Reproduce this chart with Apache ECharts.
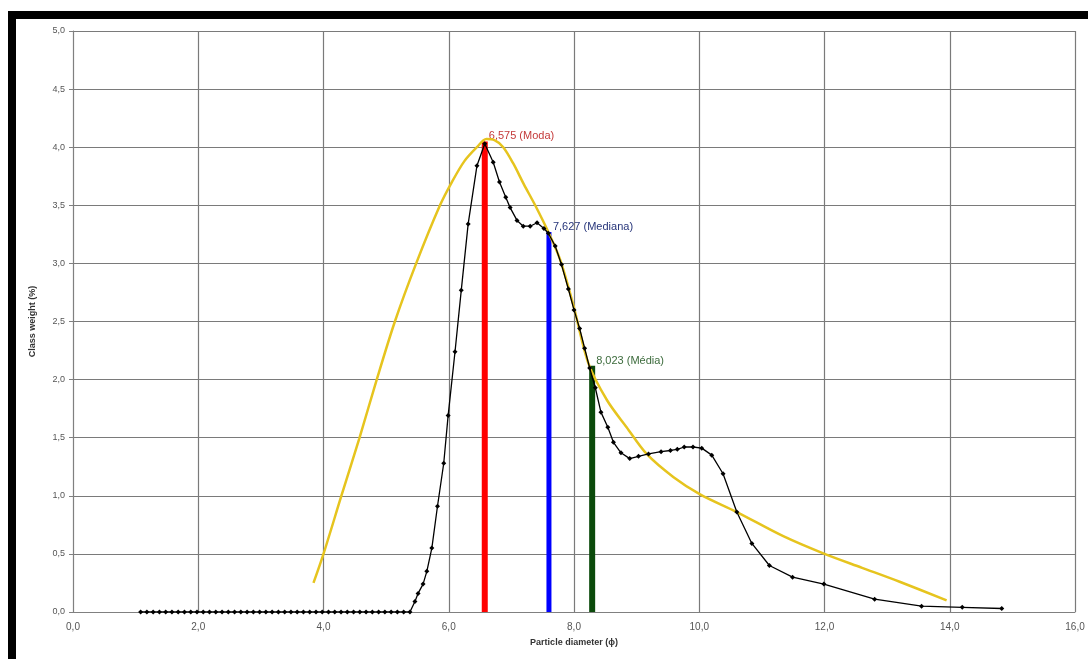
<!DOCTYPE html>
<html>
<head>
<meta charset="utf-8">
<script src="https://cdn.jsdelivr.net/npm/echarts@6/dist/echarts.min.js"></script>
<style>
  html, body { margin: 0; padding: 0; background: #fff; }
  #chart { width: 1088px; height: 659px; }
</style>
</head>
<body>
<div id="chart"></div>
<script>
// measured curve (black)
const measuredX = [
  1.08, 1.18, 1.28, 1.38, 1.48, 1.58, 1.68, 1.78, 1.88, 1.98,
  2.08, 2.18, 2.28, 2.38, 2.48, 2.58, 2.68, 2.78, 2.88, 2.98,
  3.08, 3.18, 3.28, 3.38, 3.48, 3.58, 3.68, 3.78, 3.88, 3.98,
  4.08, 4.18, 4.28, 4.38, 4.48, 4.58, 4.68, 4.78, 4.88, 4.98,
  5.08, 5.18, 5.28, 5.38,
  5.46, 5.51, 5.59, 5.65, 5.73, 5.82, 5.92, 5.99, 6.1, 6.2,
  6.31, 6.45, 6.575, 6.71, 6.81, 6.91, 6.98, 7.09, 7.19, 7.3,
  7.41, 7.52, 7.59, 7.7, 7.8, 7.91, 8.0, 8.09, 8.17, 8.25,
  8.34, 8.43, 8.54, 8.63, 8.75, 8.89, 9.03, 9.19, 9.39, 9.54,
  9.65, 9.76, 9.9, 10.04, 10.2, 10.38, 10.6, 10.84, 11.12, 11.49,
  11.99, 12.8, 13.55, 14.2, 14.83
];
const measuredY = [
  0, 0, 0, 0, 0, 0, 0, 0, 0, 0,
  0, 0, 0, 0, 0, 0, 0, 0, 0, 0,
  0, 0, 0, 0, 0, 0, 0, 0, 0, 0,
  0, 0, 0, 0, 0, 0, 0, 0, 0, 0,
  0, 0, 0, 0,
  0.09, 0.16, 0.24, 0.35, 0.55, 0.91, 1.28, 1.69, 2.24, 2.77,
  3.34, 3.84, 4.03, 3.87, 3.7, 3.57, 3.48, 3.37, 3.32, 3.32,
  3.35, 3.3, 3.26, 3.15, 2.99, 2.78, 2.6, 2.44, 2.27, 2.1,
  1.93, 1.72, 1.59, 1.46, 1.37, 1.32, 1.34, 1.36, 1.38, 1.39,
  1.4, 1.42, 1.42, 1.41, 1.35, 1.19, 0.86, 0.59, 0.4, 0.3,
  0.24, 0.11, 0.05, 0.04, 0.03
];

// fitted curve (yellow)
const fitX = [3.84, 4.0, 4.28, 4.57, 4.85, 5.14, 5.48, 5.86, 6.05, 6.25,
  6.45, 6.6, 6.73, 6.87, 7.03, 7.2, 7.38, 7.59, 7.78, 7.99,
  8.23, 8.53, 8.84, 9.16, 9.59, 10.02, 10.6, 11.35, 12.0, 12.6,
  13.2, 13.95];
const fitY = [0.25, 0.5, 0.99, 1.49, 2.0, 2.5, 3.0, 3.5, 3.7, 3.88,
  4.0, 4.07, 4.06, 4.0, 3.86, 3.68, 3.5, 3.27, 3.03, 2.64,
  2.14, 1.82, 1.59, 1.36, 1.16, 1.01, 0.86, 0.65, 0.5, 0.38,
  0.26, 0.1];

// statistics (mode, median, mean)
const statX = [6.575, 7.6, 8.29];
const statTop = [4.05, 3.27, 2.12];
const statLabels = ['6,575 (Moda)', '7,627 (Mediana)', '8,023 (Média)'];

const statColors = ['#ff0000', '#0000ff', '#0b4a0b'];
const statTextColors = ['#c43a3a', '#27357a', '#3c6b3c'];
const statWidths = [6, 5, 6];

const fmt = v => v.toFixed(1).replace('.', ',');

const statSeries = statX.map((x, i) => ({
  type: 'line',
  z: 2,
  data: [[x, 0], [x, statTop[i]]],
  symbol: 'none',
  lineStyle: { color: statColors[i], width: statWidths[i] },
  label: { show: false },
  endLabel: {
    show: true,
    formatter: statLabels[i],
    color: statTextColors[i],
    fontFamily: 'Liberation Sans, Arial, sans-serif',
    fontSize: 11,
    distance: 4,
    offset: [0, -5]
  }
}));

const chart = echarts.init(document.getElementById('chart'));
chart.setOption({
  animation: false,
  backgroundColor: '#fff',
  grid: { left: 73, right: 13, top: 31, bottom: 47 },
  graphic: [
    { type: 'rect', shape: { x: 8, y: 11, width: 1080, height: 8 }, style: { fill: '#000' } },
    { type: 'rect', shape: { x: 8, y: 11, width: 8, height: 648 }, style: { fill: '#000' } }
  ],
  xAxis: {
    type: 'value', min: 0, max: 16, interval: 2,
    name: 'Particle diameter (ɸ)',
    nameLocation: 'middle', nameGap: 26,
    nameTextStyle: { fontFamily: 'Liberation Sans, Arial, sans-serif', fontSize: 9, fontWeight: 'bold', color: '#333' },
    axisLine: { show: true, lineStyle: { color: '#808080', width: 1 } },
    axisTick: { show: false },
    axisLabel: { formatter: fmt, color: '#555', fontSize: 10, margin: 10, fontFamily: 'Liberation Sans, Arial, sans-serif' },
    splitLine: { show: true, lineStyle: { color: '#7a7a7a', width: 1.2 } }
  },
  yAxis: {
    type: 'value', min: 0, max: 5, interval: 0.5,
    name: 'Class weight (%)',
    nameLocation: 'middle', nameGap: 36, nameRotate: 90,
    nameTextStyle: { fontFamily: 'Liberation Sans, Arial, sans-serif', fontSize: 9, fontWeight: 'bold', color: '#333' },
    axisLine: { show: true, lineStyle: { color: '#808080', width: 1 } },
    axisTick: { show: true, length: 4, lineStyle: { color: '#808080' } },
    axisLabel: { formatter: fmt, color: '#555', fontSize: 9, margin: 8, fontFamily: 'Liberation Sans, Arial, sans-serif' },
    splitLine: { show: true, lineStyle: { color: '#7a7a7a', width: 1.2 } }
  },
  series: [
    ...statSeries,
    {
      type: 'line',
      z: 3,
      data: fitX.map((x, i) => [x, fitY[i]]),
      smooth: 0.3,
      symbol: 'none',
      lineStyle: { color: '#e6c41e', width: 2.5 }
    },
    {
      type: 'line',
      z: 4,
      data: measuredX.map((x, i) => [x, measuredY[i]]),
      symbol: 'diamond',
      symbolSize: 5,
      itemStyle: { color: '#000' },
      lineStyle: { color: '#000', width: 1.3 }
    }
  ]
});
</script>
</body>
</html>
